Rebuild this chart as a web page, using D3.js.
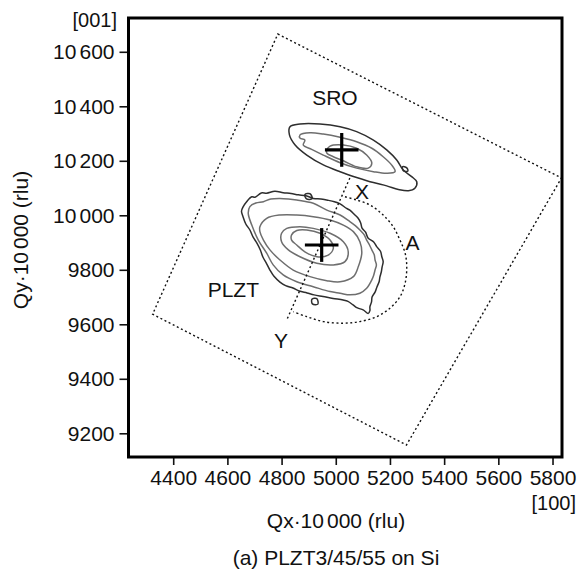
<!DOCTYPE html>
<html>
<head>
<meta charset="utf-8">
<script src="https://cdn.jsdelivr.net/npm/d3@7"></script>
<style>
  body { margin: 0; background: #fff; }
  text { font-family: "Liberation Sans", Arial, Helvetica, sans-serif; fill: #111; }
</style>
</head>
<body>
<div id="chart"></div>
<script>
// tick values
var xTicks = [4400, 4600, 4800, 5000, 5200, 5400, 5600, 5800];
var yTicks = [9200, 9400, 9600, 9800, 10000, 10200, 10400, 10600];

// dotted scan area (rotated square) and the X-Y line
var scanArea = [[4786, 10665], [5833, 10137], [5261, 9157], [4324, 9637]];
var lineXY = [[5052, 10137], [4819, 9616]];
// dotted arc A
var arcA = [[5034, 10068], [5077, 10056], [5126, 10038], [5175, 10001], [5212, 9958], [5237, 9909],
    [5256, 9861], [5262, 9811], [5256, 9751], [5237, 9701], [5200, 9659], [5151, 9628], [5089, 9610],
    [5028, 9604], [4954, 9610], [4893, 9628], [4843, 9646]];

// peak positions
var peaks = [[5022, 10240], [4948, 9891]];

// SRO contours
var sroOuter = [[4831, 10325], [4868, 10335], [4942, 10335], [5016, 10325], [5077, 10307], [5139, 10276],
    [5188, 10240], [5225, 10203], [5249, 10166], [5280, 10142], [5299, 10123], [5292, 10099], [5268, 10090],
    [5231, 10095], [5188, 10108], [5139, 10120], [5077, 10139], [5016, 10160], [4954, 10185], [4893, 10221],
    [4850, 10258], [4829, 10295]];
var sroMid = [[4868, 10295], [4905, 10303], [4954, 10298], [5016, 10286], [5077, 10270], [5133, 10246],
    [5175, 10215], [5206, 10185], [5219, 10160], [5188, 10154], [5139, 10160], [5077, 10173], [5016, 10193],
    [4954, 10221], [4911, 10242], [4880, 10258], [4886, 10276], [4868, 10283]];
var sroInner = [[4967, 10240], [4979, 10254], [5028, 10258], [5077, 10246], [5114, 10221], [5133, 10191],
    [5120, 10173], [5077, 10178], [5028, 10200], [4991, 10215], [4967, 10228]];
var sroBlob = [[5246, 10178], [5262, 10174], [5266, 10162], [5250, 10163]];

// PLZT contours
var plztC1 = [[4671, 10050], [4690, 10068], [4702, 10066], [4725, 10082], [4745, 10081], [4775, 10088],
    [4806, 10083], [4835, 10080], [4862, 10075], [4890, 10072], [4917, 10062], [4945, 10060], [4967, 10056],
    [4995, 10050], [5016, 10042], [5040, 10025], [5052, 10019], [5070, 10002], [5082, 9990], [5092, 9972],
    [5097, 9953], [5110, 9938], [5119, 9917], [5140, 9902], [5151, 9885], [5165, 9868], [5170, 9848],
    [5175, 9830], [5171, 9810], [5168, 9792], [5163, 9774], [5160, 9756], [5152, 9737], [5145, 9718],
    [5134, 9700], [5132, 9682], [5126, 9664], [5126, 9650], [5120, 9640], [5101, 9653], [5080, 9660],
    [5064, 9671], [5045, 9684], [5027, 9689], [4990, 9695], [4953, 9702], [4920, 9708], [4894, 9715],
    [4865, 9722], [4842, 9733], [4815, 9742], [4794, 9755], [4772, 9776], [4757, 9799], [4745, 9822],
    [4731, 9847], [4722, 9872], [4709, 9898], [4695, 9920], [4683, 9946], [4668, 9968], [4658, 9994],
    [4652, 10015], [4658, 10031]];
var plztC2 = [[4683, 10032], [4705, 10045], [4733, 10050], [4760, 10060], [4794, 10062], [4825, 10060],
    [4856, 10056], [4917, 10044], [4967, 10019], [5016, 10001], [5052, 9977], [5072, 9962], [5089, 9946],
    [5105, 9928], [5114, 9909], [5125, 9890], [5133, 9873], [5142, 9855], [5145, 9836], [5150, 9818],
    [5145, 9799], [5140, 9780], [5133, 9763], [5114, 9732], [5089, 9714], [5052, 9708], [5016, 9714],
    [4979, 9720], [4917, 9738], [4856, 9756], [4806, 9781], [4769, 9818], [4745, 9861], [4714, 9909],
    [4690, 9964], [4677, 10007]];
var plztC3 = [[4745, 9989], [4794, 10001], [4856, 10001], [4917, 9995], [4979, 9983], [5028, 9964],
    [5065, 9940], [5089, 9903], [5096, 9861], [5083, 9811], [5065, 9775], [5016, 9756], [4967, 9760],
    [4905, 9775], [4843, 9799], [4794, 9836], [4757, 9873], [4733, 9909], [4720, 9940], [4720, 9958]];
var plztC4 = [[4800, 9934], [4819, 9952], [4868, 9958], [4917, 9952], [4979, 9934], [5028, 9903],
    [5046, 9866], [5034, 9830], [4991, 9818], [4930, 9824], [4868, 9848], [4825, 9873], [4800, 9903]];
var plztC5 = [[4837, 9928], [4856, 9944], [4893, 9946], [4942, 9934], [4979, 9909], [4991, 9879],
    [4972, 9854], [4930, 9848], [4886, 9866], [4856, 9891], [4837, 9909]];
var plztBlob1 = [[4886, 10076], [4905, 10079], [4913, 10061], [4892, 10060]];
var plztBlob2 = [[4912, 9692], [4930, 9694], [4934, 9674], [4914, 9675]];

// labels in data units (x = centre, y = baseline)
var labels = [
    {t: "SRO", x: 4997, y: 10405},
    {t: "X", x: 5097, y: 10060},
    {t: "A", x: 5283, y: 9873},
    {t: "PLZT", x: 4622, y: 9701},
    {t: "Y", x: 4798, y: 9513}
];

var width = 579, height = 574;
var frame = {left: 128.5, right: 562, top: 18, bottom: 457};

var svg = d3.select("#chart").append("svg")
    .attr("width", width)
    .attr("height", height);

svg.append("rect").attr("width", width).attr("height", height).attr("fill", "#fff");

var x = d3.scaleLinear().domain([4235, 5835]).range([frame.left, frame.right]);
var y = d3.scaleLinear().domain([9113, 10724]).range([frame.bottom, frame.top]);

// 5 digit numbers get a small gap after the thousands, like "10 600"
function gapped(sel, head, tail) {
    sel.text(null);
    sel.append("tspan").text(head);
    sel.append("tspan").attr("dx", 3).text(tail);
}

var xAxis = svg.append("g")
    .attr("transform", `translate(0, ${frame.bottom})`)
    .call(d3.axisBottom(x).tickValues(xTicks).tickSize(8).tickPadding(5).tickFormat(d => String(d)));
var yAxis = svg.append("g")
    .attr("transform", `translate(${frame.left}, 0)`)
    .call(d3.axisLeft(y).tickValues(yTicks).tickSize(9).tickPadding(5).tickFormat(d => String(d)));

[xAxis, yAxis].forEach(function (g) {
    g.select(".domain").remove();
    g.selectAll(".tick line").attr("stroke", "#111").attr("stroke-width", 1.6);
    g.selectAll(".tick text")
        .attr("fill", "#111")
        .style("font-size", "21px")
        .style("font-family", "'Liberation Sans', Arial, sans-serif")
        .each(function (d) {
            var s = String(d);
            if (s.length > 4) gapped(d3.select(this), s.slice(0, 2), s.slice(2));
        });
});

var plot = svg.append("g");

// contours
var contour = d3.line().x(d => x(d[0])).y(d => y(d[1])).curve(d3.curveCatmullRomClosed.alpha(0.5));
var dark = "#2e2e2e", grey = "#6e6e6e";
var contours = [
    {d: sroOuter, c: dark}, {d: sroMid, c: grey}, {d: sroInner, c: grey}, {d: sroBlob, c: dark},
    {d: plztC1, c: dark}, {d: plztC2, c: grey}, {d: plztC3, c: grey}, {d: plztC4, c: grey},
    {d: plztC5, c: grey}, {d: plztBlob1, c: dark}, {d: plztBlob2, c: dark}
];
plot.selectAll(".contour")
    .data(contours)
    .enter()
    .append("path")
    .attr("class", "contour")
    .attr("d", d => contour(d.d))
    .attr("fill", "none")
    .attr("stroke", d => d.c)
    .attr("stroke-width", 1.5);

// dotted stuff
var dots = "2,2.6";
plot.append("path")
    .attr("d", d3.line().x(d => x(d[0])).y(d => y(d[1])).curve(d3.curveLinearClosed)(scanArea))
    .attr("fill", "none").attr("stroke", "#111").attr("stroke-width", 1.4).attr("stroke-dasharray", dots);
plot.append("path")
    .attr("d", d3.line().x(d => x(d[0])).y(d => y(d[1]))(lineXY))
    .attr("fill", "none").attr("stroke", "#111").attr("stroke-width", 1.4).attr("stroke-dasharray", dots);
plot.append("path")
    .attr("d", d3.line().x(d => x(d[0])).y(d => y(d[1])).curve(d3.curveCatmullRom)(arcA))
    .attr("fill", "none").attr("stroke", "#111").attr("stroke-width", 1.4).attr("stroke-dasharray", dots);

// crosses at the peaks
var arm = 62;
peaks.forEach(function (p) {
    plot.append("line")
        .attr("x1", x(p[0] - arm)).attr("x2", x(p[0] + arm))
        .attr("y1", y(p[1])).attr("y2", y(p[1]))
        .attr("stroke", "#000").attr("stroke-width", 3.2);
    plot.append("line")
        .attr("x1", x(p[0])).attr("x2", x(p[0]))
        .attr("y1", y(p[1] - arm)).attr("y2", y(p[1] + arm))
        .attr("stroke", "#000").attr("stroke-width", 3.2);
});

plot.selectAll(".lbl")
    .data(labels)
    .enter()
    .append("text")
    .attr("class", "lbl")
    .attr("x", d => x(d.x))
    .attr("y", d => y(d.y))
    .attr("text-anchor", "middle")
    .style("font-size", "21px")
    .text(d => d.t);

// frame
svg.append("rect")
    .attr("x", frame.left).attr("y", frame.top)
    .attr("width", frame.right - frame.left).attr("height", frame.bottom - frame.top)
    .attr("fill", "none").attr("stroke", "#000").attr("stroke-width", 3);

// direction labels and titles
svg.append("text").attr("x", 117).attr("y", 27).attr("text-anchor", "end")
    .style("font-size", "20px").text("[001]");
svg.append("text").attr("x", 576).attr("y", 510).attr("text-anchor", "end")
    .style("font-size", "20px").text("[100]");

var xTitle = svg.append("text").attr("x", 336).attr("y", 528).attr("text-anchor", "middle")
    .style("font-size", "21px");
gapped(xTitle, "Qx\u00b710", "000 (rlu)");

svg.append("text").attr("x", 336).attr("y", 565).attr("text-anchor", "middle")
    .style("font-size", "21px").text("(a) PLZT3/45/55 on Si");

var yTitle = svg.append("text")
    .attr("transform", "translate(28, 240) rotate(-90)")
    .attr("text-anchor", "middle")
    .style("font-size", "21px");
gapped(yTitle, "Qy\u00b710", "000 (rlu)");
</script>
</body>
</html>
